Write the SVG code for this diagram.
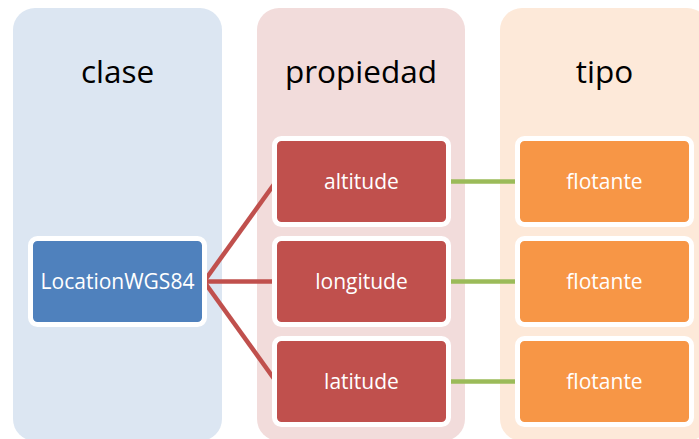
<svg xmlns="http://www.w3.org/2000/svg" width="699" height="439" viewBox="0 0 699 439">
  <style>
    .col { stroke: none; }
    .head { font-family: "Open Sans", "Noto Sans", sans-serif; font-size: 31.5px; fill: #000000; text-anchor: middle; }
    .box { stroke: #ffffff; stroke-width: 5; }
    .lbl { font-family: "Open Sans", "Noto Sans", sans-serif; font-size: 21px; fill: #ffffff; text-anchor: middle; }
    .cls { fill: #4f81bd; }
    .prop { fill: #c0504d; }
    .typ { fill: #f79646; }
    .link-red { stroke: #c0504d; stroke-width: 4.5; fill: none; }
    .link-green { stroke: #9bbb59; stroke-width: 4.5; fill: none; }
  </style>

  <rect width="699" height="439" fill="#ffffff"/>

  <!-- column backgrounds -->
  <g id="columns">
    <rect class="col" x="13" y="8" width="209" height="433" rx="22" fill="#dce6f2"/>
    <rect class="col" x="257" y="8" width="208" height="433" rx="22" fill="#f2dcdb"/>
    <rect class="col" x="500" y="8" width="209" height="433" rx="22" fill="#fde9d9"/>
    <text class="head" x="117.5" y="83">clase</text>
    <text class="head" x="361" y="83">propiedad</text>
    <text class="head" x="604.5" y="83">tipo</text>
  </g>

  <!-- connectors -->
  <g id="connectors">
    <line class="link-red" x1="204" y1="281.5" x2="276" y2="181.5"/>
    <line class="link-red" x1="204" y1="281.5" x2="276" y2="281.5"/>
    <line class="link-red" x1="204" y1="281.5" x2="276" y2="381.5"/>
    <line class="link-green" x1="446" y1="181.5" x2="520" y2="181.5"/>
    <line class="link-green" x1="446" y1="281.5" x2="520" y2="281.5"/>
    <line class="link-green" x1="446" y1="381.5" x2="520" y2="381.5"/>
  </g>

  <g id="LocationWGS84">
    <rect class="box cls" x="30.5" y="238.5" width="174" height="86" rx="7"/>
    <text class="lbl" x="117.5" y="288.5">LocationWGS84</text>
  </g>

  <g id="altitude">
    <rect class="box prop" x="274.5" y="138.5" width="174" height="86" rx="7"/>
    <text class="lbl" x="361.5" y="188.5">altitude</text>
  </g>
  <g id="longitude">
    <rect class="box prop" x="274.5" y="238.5" width="174" height="86" rx="7"/>
    <text class="lbl" x="361.5" y="288.5">longitude</text>
  </g>
  <g id="latitude">
    <rect class="box prop" x="274.5" y="338.5" width="174" height="86" rx="7"/>
    <text class="lbl" x="361.5" y="388.5">latitude</text>
  </g>

  <g id="tipo-altitude">
    <rect class="box typ" x="517.5" y="138.5" width="174" height="86" rx="7"/>
    <text class="lbl" x="604.5" y="188.5">flotante</text>
  </g>
  <g id="tipo-longitude">
    <rect class="box typ" x="517.5" y="238.5" width="174" height="86" rx="7"/>
    <text class="lbl" x="604.5" y="288.5">flotante</text>
  </g>
  <g id="tipo-latitude">
    <rect class="box typ" x="517.5" y="338.5" width="174" height="86" rx="7"/>
    <text class="lbl" x="604.5" y="388.5">flotante</text>
  </g>
</svg>
